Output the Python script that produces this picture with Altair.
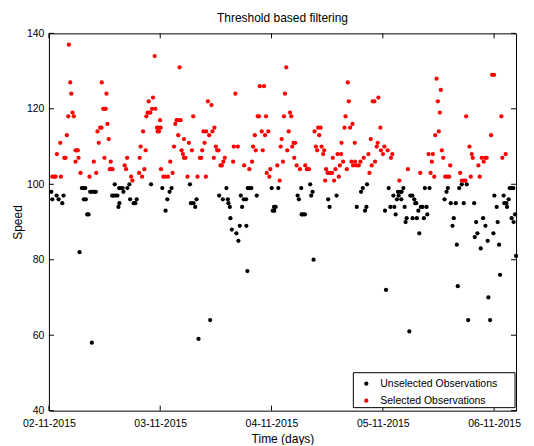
import altair as alt
import pandas as pd

# ---- data (hours since 02-11-2015 00:00, speed) ----
sel_hours = [0.73, 1.16, 1.44, 1.72, 2.45, 2.58, 3.31, 3.59, 3.87, 4.17, 4.30, 4.60, 4.82, 5.10, 5.38, 5.74, 5.74, 6.02, 6.24, 6.39,
             6.82, 8.75, 9.68, 10.19, 10.47, 10.75, 11.05, 11.33, 11.40, 11.70, 11.98, 11.98, 12.26, 12.41, 12.62, 12.90, 13.12, 13.33, 13.42, 13.70,
             16.34, 16.64, 16.86, 17.72, 18.00, 19.44, 19.57, 19.78, 20.09, 20.30, 20.58, 20.86, 21.01, 21.29, 21.51, 21.59, 21.87, 22.24, 22.45, 22.80,
             22.95, 23.31, 23.44, 23.59, 23.74, 23.96, 24.09, 24.17, 24.67, 25.10, 25.68, 26.17, 26.67, 26.97, 27.25, 27.53, 27.89, 27.89, 28.39, 28.17,
             28.60, 28.90, 29.12, 29.12, 29.46, 29.89, 30.19, 30.84, 31.12, 32.04, 32.56, 32.84, 33.05, 33.33, 33.55, 33.85, 33.91, 34.28, 34.56, 35.05,
             35.27, 35.70, 35.57, 36.00, 36.28, 36.56, 36.99, 37.29, 37.63, 37.93, 39.72, 39.87, 40.73, 40.21, 42.09, 43.23, 43.81, 44.02, 44.60, 44.39,
             45.03, 45.31, 45.46, 46.39, 45.89, 46.11, 46.60, 46.82, 47.31, 46.97, 47.53, 47.74, 49.25, 49.76, 49.98, 50.19, 50.47, 50.69, 50.90, 51.18,
             51.40, 51.70, 51.98, 52.26, 52.47, 52.77, 53.12, 52.90, 53.42, 54.13, 55.27, 55.63, 56.06, 57.29, 57.57, 57.85, 58.06, 58.58, 58.28, 58.79,
             59.14, 59.35, 59.57, 59.78, 60.09, 60.36, 60.73, 61.07, 61.22, 61.50, 61.80, 62.24, 63.01, 62.51, 62.73, 63.10, 63.44, 63.74, 63.96, 64.24,
             64.45, 64.67, 64.95, 65.46, 65.25, 65.59, 66.02, 66.32, 66.82, 67.18, 65.96, 67.89, 68.90, 69.12, 69.40, 69.61, 69.83, 70.19, 70.32, 70.69,
             70.90, 71.05, 71.48, 71.61, 72.04, 72.34, 73.05, 73.76, 74.06, 75.57, 77.42, 80.08, 81.87, 82.30, 82.58, 82.79, 83.10, 83.31, 83.59, 83.87,
             84.08, 84.30, 84.51, 84.73, 85.03, 85.46, 85.89, 86.32, 86.54, 88.69, 89.03, 89.46, 89.83, 89.98, 90.69, 90.97, 91.18, 91.40, 92.62, 92.90,
             93.33, 93.76, 94.06, 94.41, 95.35, 95.57, 96.00, 97.57, 97.78, 98.49]
sel_speed = [102, 102, 102, 108, 111, 102, 107, 107, 113, 118, 137, 127, 124, 119, 118, 109, 106, 109, 109, 107,
             103, 102, 106, 103, 114, 111, 115, 115, 127, 120, 120, 107, 120, 124, 116, 112, 104, 106, 104, 104,
             105, 104, 107, 102, 101, 103, 107, 110, 102, 114, 104, 109, 118, 119, 122, 119, 119, 120, 123, 134,
             120, 115, 114, 115, 114, 117, 115, 104, 102, 102, 102, 106, 103, 110, 116, 117, 117, 113, 117, 131,
             109, 108, 107, 112, 107, 102, 111, 109, 118, 102, 107, 107, 109, 114, 111, 102, 114, 122, 113, 121,
             114, 115, 107, 110, 109, 109, 105, 105, 106, 107, 106, 110, 110, 124, 105, 104, 106, 110, 109, 113,
             118, 118, 126, 126, 114, 109, 113, 118, 114, 103, 102, 104, 105, 101, 110, 112, 106, 118, 124, 131,
             109, 114, 119, 118, 110, 111, 111, 107, 105, 104, 105, 104, 104, 114, 110, 109, 115, 115, 113, 110,
             108, 109, 101, 104, 103, 103, 103, 103, 107, 101, 104, 108, 108, 102, 105, 111, 106, 115, 118, 104,
             127, 122, 115, 116, 106, 105, 106, 105, 105, 106, 111, 107, 108, 103, 112, 105, 122, 122, 106, 110,
             111, 123, 115, 109, 108, 110, 109, 107, 108, 101, 104, 103, 108, 103, 106, 108, 102, 113, 128, 122,
             114, 119, 125, 109, 107, 102, 102, 102, 105, 103, 101, 101, 101, 118, 110, 102, 108, 107, 105, 102,
             107, 106, 107, 107, 113, 129, 129, 118, 107, 108]

unsel_hours = [0.52, 0.73, 1.66, 2.09, 2.88, 3.16, 6.60, 7.10, 7.40, 7.83, 7.53, 7.96, 8.26, 8.54, 9.25, 8.90, 9.33, 9.83, 10.11, 13.63,
               13.91, 14.34, 14.77, 14.19, 15.20, 14.99, 15.14, 15.48, 15.91, 16.06, 16.92, 17.35, 17.51, 18.28, 18.64, 18.92, 22.02, 24.45, 26.45, 26.02,
               25.53, 25.16, 30.41, 30.62, 31.18, 31.55, 31.83, 38.28, 36.71, 37.50, 38.58, 38.71, 39.01, 39.14, 39.44, 40.43, 40.86, 41.16, 42.58, 41.38,
               41.66, 42.02, 42.52, 42.88, 43.16, 43.65, 44.82, 48.04, 49.46, 48.26, 48.54, 48.90, 48.60, 42.79, 34.77, 32.26, 53.63, 53.91, 54.41, 56.34,
               56.56, 56.86, 54.49, 54.77, 55.20, 57.07, 60.21, 60.52, 62.02, 66.38, 67.31, 67.68, 68.60, 68.17, 68.47, 72.69, 72.47, 73.27, 73.63, 74.49,
               74.28, 74.77, 75.05, 75.27, 75.42, 75.78, 76.06, 76.43, 76.00, 76.71, 77.14, 76.92, 77.72, 77.93, 78.36, 78.79, 79.01, 79.22, 78.43, 79.35,
               79.87, 79.66, 80.21, 80.58, 81.44, 80.86, 81.07, 82.08, 81.59, 85.31, 85.74, 86.02, 86.66, 87.74, 89.46, 87.03, 87.31, 87.96, 88.17, 88.47,
               89.03, 90.11, 90.41, 91.70, 91.83, 92.13, 92.41, 93.12, 93.63, 94.13, 94.62, 94.77, 95.14, 95.85, 96.06, 96.56, 96.77, 97.07, 97.29, 98.06,
               98.21, 98.64, 98.79, 99.14, 99.35, 99.78, 100.15, 99.78, 100.21, 100.52, 100.73]
unsel_speed = [98, 96, 97, 96, 95, 97, 82, 99, 99, 99, 96, 96, 92, 92, 58, 98, 98, 98, 98, 97,
               97, 97, 97, 100, 95, 94, 99, 99, 99, 98, 99, 100, 96, 95, 95, 96, 100, 99, 99, 98,
               96, 93, 100, 95, 95, 94, 96, 99, 97, 96, 96, 95, 94, 91, 88, 87, 85, 89, 89, 97,
               94, 96, 96, 99, 99, 99, 97, 99, 99, 93, 94, 94, 93, 77, 64, 59, 97, 96, 99, 100,
               97, 98, 92, 92, 92, 80, 96, 94, 97, 94, 98, 99, 100, 93, 94, 72, 93, 99, 94, 94,
               97, 92, 96, 98, 97, 98, 98, 99, 96, 94, 91, 90, 61, 97, 97, 96, 95, 95, 91, 91,
               87, 93, 94, 94, 94, 91, 99, 99, 92, 96, 98, 99, 95, 95, 95, 89, 91, 84, 73, 99,
               100, 100, 64, 95, 86, 90, 87, 83, 91, 89, 85, 70, 64, 87, 97, 94, 90, 84, 76, 97,
               95, 95, 94, 96, 99, 99, 99, 91, 90, 92, 81]

x_tick_days = [0, 1, 2, 3, 4]
x_tick_labels = ["02-11-2015", "03-11-2015", "04-11-2015", "05-11-2015", "06-11-2015"]
y_ticks = [40, 60, 80, 100, 120, 140]
series_names = ["Unselected Observations", "Selected Observations"]
series_colors = ["#000000", "#ff0000"]

df = pd.concat([
    pd.DataFrame({"hours": unsel_hours, "speed": unsel_speed, "series": series_names[0]}),
    pd.DataFrame({"hours": sel_hours, "speed": sel_speed, "series": series_names[1]}),
], ignore_index=True)
df["day"] = df["hours"] / 24.0

W, H = 468, 378
FONT = "Liberation Sans"
xs = alt.Scale(domain=[0, 4.197], nice=False, zero=False)
ys = alt.Scale(domain=[40, 140], nice=False, zero=False)
label_expr = "[" + ",".join("'%s'" % l for l in x_tick_labels) + "][datum.value]"

x_axis = alt.Axis(values=x_tick_days, labelExpr=label_expr, title="Time (days)",
                  ticks=False, domain=False, grid=False, labelFlush=False,
                  labelOverlap=False, labelPadding=8, titlePadding=4)
y_axis = alt.Axis(values=y_ticks, title="Speed", ticks=False, domain=False,
                  grid=False, labelPadding=5, titlePadding=2)


def xenc():
    return alt.X("day:Q", scale=xs, axis=x_axis)


def yenc():
    return alt.Y("speed:Q", scale=ys, axis=y_axis)


points = alt.Chart(df).mark_circle(size=18, opacity=1).encode(
    x=xenc(), y=yenc(),
    color=alt.Color("series:N", scale=alt.Scale(domain=series_names, range=series_colors), legend=None),
)

xt_df = pd.DataFrame({"day": x_tick_days})
yt_df = pd.DataFrame({"speed": y_ticks})
tick_bottom = alt.Chart(xt_df).mark_rule(color="black", strokeWidth=1).encode(
    x=xenc(), y=alt.value(H), y2=alt.value(H - 5))
tick_top = alt.Chart(xt_df).mark_rule(color="black", strokeWidth=1).encode(
    x=xenc(), y=alt.value(0), y2=alt.value(5))
tick_left = alt.Chart(yt_df).mark_rule(color="black", strokeWidth=1).encode(
    y=yenc(), x=alt.value(0), x2=alt.value(5))
tick_right = alt.Chart(yt_df).mark_rule(color="black", strokeWidth=1).encode(
    y=yenc(), x=alt.value(W), x2=alt.value(W - 5))

one = pd.DataFrame({"k": [0]})
legend_layers = [
    alt.Chart(one).mark_rect(fill="white", stroke="black", strokeWidth=1).encode(
        x=alt.value(305), x2=alt.value(467), y=alt.value(340), y2=alt.value(375))
]
for i, (name, col) in enumerate(zip(series_names, series_colors)):
    yy = 351 + 17 * i
    legend_layers.append(alt.Chart(one).mark_circle(size=18, opacity=1, color=col).encode(
        x=alt.value(318), y=alt.value(yy)))
    legend_layers.append(alt.Chart(one).mark_text(text=name, align="left", baseline="middle", font=FONT,
                                                   fontSize=10.5, color="black").encode(
        x=alt.value(332), y=alt.value(yy)))

chart = alt.layer(points, tick_bottom, tick_top, tick_left, tick_right, *legend_layers).properties(
    width=W, height=H,
    title=alt.TitleParams("Threshold based filtering", fontSize=12, fontWeight="normal", font=FONT,
                          offset=3, anchor="middle", color="black"),
    autosize=alt.AutoSizeParams(type="none"),
    padding={"left": 41, "top": 25, "right": 10, "bottom": 34},
).configure_view(stroke="black", strokeWidth=1).configure_axis(
    labelFont=FONT, labelFontSize=10.5, labelColor="black",
    titleFont=FONT, titleFontSize=12, titleFontWeight="normal", titleColor="black",
)

chart.save("out.html", embed_options={"renderer": "svg", "actions": False})
